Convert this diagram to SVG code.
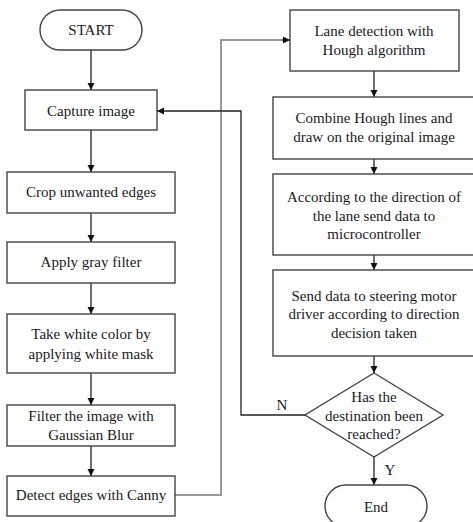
<svg xmlns="http://www.w3.org/2000/svg" width="473" height="522" viewBox="0 0 473 522">
<defs>
<marker id="ah" markerWidth="8" markerHeight="8" refX="7" refY="4" orient="auto" markerUnits="userSpaceOnUse">
<path d="M0,0.5 L7,4 L0,7.5 Z" fill="#111"/>
</marker>
<style>
.box{fill:#fff;stroke:#444;stroke-width:1.4}
.t{font-size:15px;fill:#1a1a1a;text-anchor:middle}
.c{fill:none;stroke:#222;stroke-width:1.3}
.g{fill:none;stroke:#999;stroke-width:2}
</style>
</defs>
<rect width="473" height="522" fill="#fff"/>
<g font-family="Liberation Serif, Times New Roman, DejaVu Serif, serif">
<g id="connectors">
<path class="c" d="M91,50 V90" marker-end="url(#ah)"/>
<path class="c" d="M91,130 V172" marker-end="url(#ah)"/>
<path class="c" d="M91,213 V242" marker-end="url(#ah)"/>
<path class="c" d="M91,283 V314" marker-end="url(#ah)"/>
<path class="c" d="M91,373 V405" marker-end="url(#ah)"/>
<path class="c" d="M91,446 V476" marker-end="url(#ah)"/>
<path class="g" d="M175,495 H221 V40 H289"/>
<path class="c" d="M282,40 H290" marker-end="url(#ah)"/>
<path class="c" d="M374,71 V97" marker-end="url(#ah)"/>
<path class="c" d="M374,159 V174" marker-end="url(#ah)"/>
<path class="c" d="M374,255 V270" marker-end="url(#ah)"/>
<path class="c" d="M374,356 V373" marker-end="url(#ah)"/>
<path class="c" d="M374,457 V485" marker-end="url(#ah)"/>
<path class="c" d="M305,415 H241 V111 H157" marker-end="url(#ah)"/>
<text class="t" x="282" y="410">N</text>
<text class="t" x="390" y="475">Y</text>
</g>
<g id="start"><rect class="box" x="40" y="10" width="102" height="40" rx="20"/><text class="t" x="91" y="35">START</text></g>
<g id="capture"><rect class="box" x="25" y="90" width="132" height="40"/><text class="t" x="91" y="116">Capture image</text></g>
<g id="crop"><rect class="box" x="7" y="172" width="168" height="41"/><text class="t" x="91" y="197">Crop unwanted edges</text></g>
<g id="gray"><rect class="box" x="7" y="242" width="168" height="41"/><text class="t" x="91" y="267">Apply gray filter</text></g>
<g id="white"><rect class="box" x="7" y="314" width="168" height="59"/><text class="t" x="91" y="339">Take white color by</text><text class="t" x="91" y="359">applying white mask</text></g>
<g id="gauss"><rect class="box" x="7" y="405" width="168" height="41"/><text class="t" x="91" y="421">Filter the image with</text><text class="t" x="91" y="440">Gaussian Blur</text></g>
<g id="canny"><rect class="box" x="7" y="476" width="168" height="40"/><text class="t" x="91" y="500">Detect edges with Canny</text></g>
<g id="hough"><rect class="box" x="290" y="10" width="169" height="61"/><text class="t" x="374" y="36">Lane detection with</text><text class="t" x="374" y="55">Hough algorithm</text></g>
<g id="combine"><rect class="box" x="273" y="97" width="203" height="62"/><text class="t" x="374" y="123">Combine Hough lines and</text><text class="t" x="374" y="142">draw on the original image</text></g>
<g id="direction"><rect class="box" x="273" y="174" width="203" height="81"/><text class="t" x="374" y="202">According to the direction of</text><text class="t" x="374" y="221">the lane send data to</text><text class="t" x="374" y="239">microcontroller</text></g>
<g id="send"><rect class="box" x="273" y="270" width="203" height="86"/><text class="t" x="374" y="301">Send data to steering motor</text><text class="t" x="374" y="319">driver according to direction</text><text class="t" x="374" y="338">decision taken</text></g>
<g id="decision"><path class="box" d="M374,373 L443,415 L374,457 L305,415 Z"/><text class="t" x="374" y="402">Has the</text><text class="t" x="374" y="421">destination been</text><text class="t" x="374" y="439">reached?</text></g>
<g id="end"><rect class="box" x="325" y="485" width="102" height="42" rx="21"/><text class="t" x="376" y="512">End</text></g>
</g>
</svg>
